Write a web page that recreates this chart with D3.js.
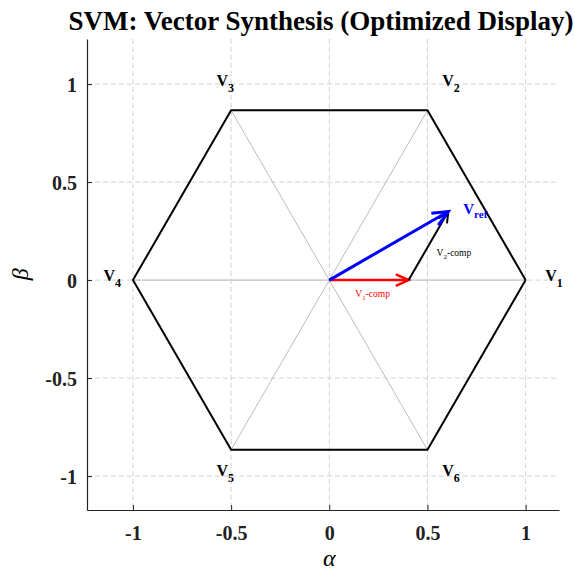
<!DOCTYPE html>
<html>
<head>
<meta charset="utf-8">
<script src="https://cdn.jsdelivr.net/npm/d3@7"></script>
<style>
  body { margin: 0; background: #fff; }
  text { font-family: "Liberation Serif", "Times New Roman", serif; }
</style>
</head>
<body>
<svg id="chart" width="575" height="573"></svg>
<script>
// hexagon vertices (degrees) and their labels
var vertexAngles = [0, 60, 120, 180, 240, 300];
var vertexNames = ['1', '2', '3', '4', '5', '6'];
var labelRadius = [1.1, 1.15, 1.15, 1.15, 1.15, 1.15];

// reference vector decomposition
var v1Comp = 0.404;   // along V1 (0 deg)
var v2Comp = 0.404;   // along V2 (60 deg)

var xTicks = [-1, -0.5, 0, 0.5, 1];
var yTicks = [-1, -0.5, 0, 0.5, 1];
var xTickLabels = ['-1', '-0.5', '0', '0.5', '1'];
var yTickLabels = ['-1', '-0.5', '0', '0.5', '1'];

var svg = d3.select('#chart');
var pLeft = 87, pRight = 559, pTop = 39, pBottom = 510;

var x = d3.scaleLinear().domain([-1.234, 1.17]).range([pLeft, pRight]);
var y = d3.scaleLinear().domain([-1.173, 1.23]).range([pBottom, pTop]);

var rad = function(a) { return a * Math.PI / 180; };

// grid
var grid = svg.append('g');
xTicks.forEach(function(t) {
  grid.append('line').attr('x1', x(t)).attr('x2', x(t)).attr('y1', pTop).attr('y2', pBottom)
    .attr('stroke', '#c8c8c8').attr('stroke-width', 0.8).attr('stroke-dasharray', '5,3');
});
yTicks.forEach(function(t) {
  grid.append('line').attr('y1', y(t)).attr('y2', y(t)).attr('x1', pLeft).attr('x2', pRight)
    .attr('stroke', '#c8c8c8').attr('stroke-width', 0.8).attr('stroke-dasharray', '5,3');
});

// axes (left + bottom only, ticks inward)
var xAxis = d3.axisBottom(x).tickValues(xTicks).tickSize(-5).tickSizeOuter(0).tickFormat(function(d, i) { return xTickLabels[i]; });
var yAxis = d3.axisLeft(y).tickValues(yTicks).tickSize(-5).tickSizeOuter(0).tickFormat(function(d, i) { return yTickLabels[i]; });

var gx = svg.append('g').attr('transform', 'translate(0,' + pBottom + ')').call(xAxis);
var gy = svg.append('g').attr('transform', 'translate(' + pLeft + ',0)').call(yAxis);
[gx, gy].forEach(function(g) {
  g.select('.domain').attr('stroke', '#222').attr('stroke-width', 1.2);
  g.selectAll('.tick line').attr('stroke', '#222');
  g.selectAll('.tick text').attr('font-family', 'Liberation Serif').attr('font-weight', 'bold')
    .attr('font-size', 20).attr('fill', '#222');
});
gx.selectAll('.tick text').attr('y', 16);
gy.selectAll('.tick text').attr('x', -10).attr('dy', '0.35em');

// inner diagonals
var diag = svg.append('g');
[0, 60, 120].forEach(function(a) {
  diag.append('line')
    .attr('x1', x(Math.cos(rad(a)))).attr('y1', y(Math.sin(rad(a))))
    .attr('x2', x(-Math.cos(rad(a)))).attr('y2', y(-Math.sin(rad(a))))
    .attr('stroke', '#bdbdbd').attr('stroke-width', 1);
});

// hexagon
var hexPts = vertexAngles.concat([vertexAngles[0]]).map(function(a) {
  return [x(Math.cos(rad(a))), y(Math.sin(rad(a)))];
});
svg.append('path').attr('d', d3.line()(hexPts))
  .attr('fill', 'none').attr('stroke', '#000').attr('stroke-width', 2);

// vertex labels
vertexAngles.forEach(function(a, i) {
  var t = svg.append('text')
    .attr('x', x(labelRadius[i] * Math.cos(rad(a))))
    .attr('y', y(labelRadius[i] * Math.sin(rad(a))) + 1)
    .attr('font-weight', 'bold').attr('font-size', 16).attr('fill', '#000');
  t.append('tspan').text('V');
  t.append('tspan').attr('font-size', 12).attr('dy', 6).text(vertexNames[i]);
});

// arrows
function arrow(x0, y0, x1, y1, color, w, head) {
  var px0 = x(x0), py0 = y(y0), px1 = x(x1), py1 = y(y1);
  var ang = Math.atan2(py1 - py0, px1 - px0);
  var spread = rad(24);
  svg.append('line').attr('x1', px0).attr('y1', py0).attr('x2', px1).attr('y2', py1)
    .attr('stroke', color).attr('stroke-width', w);
  var pts = [
    [px1 - head * Math.cos(ang - spread), py1 - head * Math.sin(ang - spread)],
    [px1, py1],
    [px1 - head * Math.cos(ang + spread), py1 - head * Math.sin(ang + spread)]
  ];
  svg.append('path').attr('d', d3.line()(pts)).attr('fill', 'none')
    .attr('stroke', color).attr('stroke-width', w).attr('stroke-linejoin', 'miter');
}

var p1 = [v1Comp, 0];
var pRef = [v1Comp + v2Comp * Math.cos(rad(60)), v2Comp * Math.sin(rad(60))];

arrow(0, 0, p1[0], p1[1], '#ff0000', 2.5, 14);
arrow(p1[0], p1[1], pRef[0], pRef[1], '#000', 2, 12);
arrow(0, 0, pRef[0], pRef[1], '#0000ff', 3, 17);

// vector labels
var tr = svg.append('text').attr('x', x(pRef[0]) + 15).attr('y', y(pRef[1]) + 2)
  .attr('font-family', 'Liberation Sans').attr('font-weight', 'bold').attr('font-size', 15).attr('fill', '#0000ff');
tr.append('tspan').text('V');
tr.append('tspan').attr('font-size', 11).attr('dy', 4).text('ref');

var t2 = svg.append('text').attr('x', x(p1[0]) + 28).attr('y', y(p1[1]) - 24)
  .attr('font-size', 9.5).attr('fill', '#000');
t2.append('tspan').text('V');
t2.append('tspan').attr('font-size', 7).attr('dy', 3).text('2');
t2.append('tspan').attr('dy', -3).text('-comp');

var t1 = svg.append('text').attr('x', x(0) + 26).attr('y', y(0) + 17)
  .attr('font-size', 9.5).attr('fill', '#ff0000');
t1.append('tspan').text('V');
t1.append('tspan').attr('font-size', 7).attr('dy', 3).text('1');
t1.append('tspan').attr('dy', -3).text('-comp');

// title and axis labels
svg.append('text').attr('x', 321).attr('y', 30).attr('text-anchor', 'middle')
  .attr('font-weight', 'bold').attr('font-size', 27).text('SVM: Vector Synthesis (Optimized Display)');
svg.append('text').attr('x', x(0)).attr('y', 566).attr('text-anchor', 'middle')
  .attr('font-style', 'italic').attr('font-size', 24).text('α');
svg.append('text').attr('transform', 'translate(28,' + y(0.03) + ') rotate(-90)').attr('text-anchor', 'middle')
  .attr('font-style', 'italic').attr('font-size', 24).text('β');
</script>
</body>
</html>
